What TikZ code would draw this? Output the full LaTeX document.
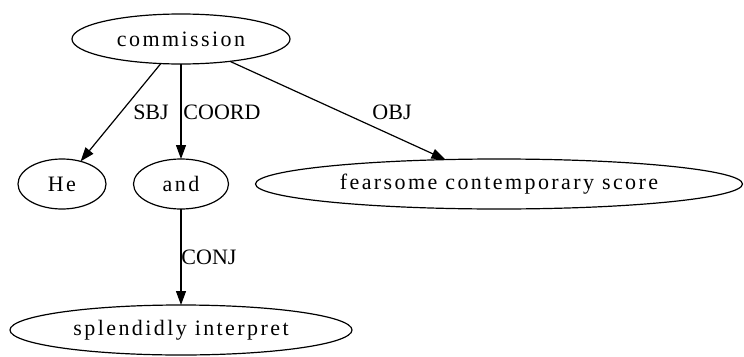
\documentclass[tikz,border=0pt]{standalone}
\usepackage{fontspec}
\setmainfont{Liberation Serif}
\newfontfamily\nodefont[LetterSpace=11]{Liberation Serif}
\usetikzlibrary{shapes.geometric,arrows.meta}
\tikzset{
  dnode/.style={draw, ellipse, line width=1.2pt, inner sep=0pt, outer sep=0pt,
    minimum height=50pt, font=\nodefont\fontsize{22}{26}\selectfont},
  dedge/.style={line width=1.2pt, -{Triangle[length=14pt,width=10pt]}},
  elabel/.style={inner sep=0pt, font=\fontsize{22}{26}\selectfont}
}
\begin{document}
\begin{tikzpicture}[x=1pt,y=-1pt]
\useasboundingbox (0,0) rectangle (744,356);
\node[dnode, minimum width=218pt] (commission) at (181,39) {commission};
\node[dnode, minimum width=88pt] (he) at (62,184) {He};
\node[dnode, minimum width=95pt] (and) at (181,184) {and};
\node[dnode, minimum width=487pt] (score) at (499,184) {fearsome contemporary score};
\node[dnode, minimum width=342pt] (interp) at (181,330) {splendidly interpret};
\draw[dedge] (commission) -- (he);
\draw[dedge] (commission) -- (and);
\draw[dedge] (commission) -- (score);
\draw[dedge] (and) -- (interp);
\node[elabel] (lsbj) at (151,112) {SBJ};
\node[elabel] (lcoord) at (222,112) {COORD};
\node[elabel] (lobj) at (392,112) {OBJ};
\node[elabel] (lconj) at (209,257) {CONJ};
\end{tikzpicture}
\end{document}
